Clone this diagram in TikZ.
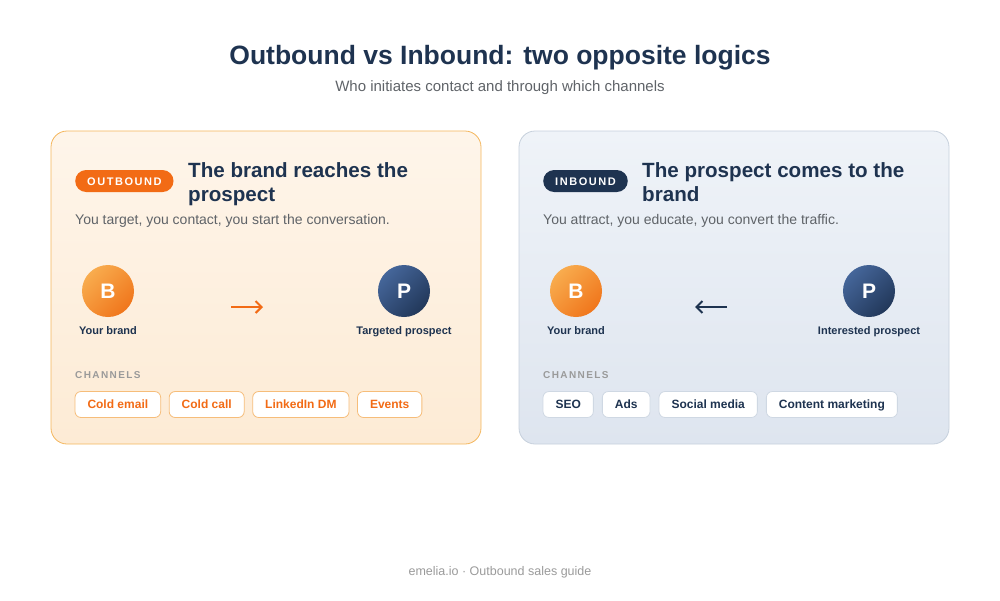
\documentclass[tikz,border=0pt]{standalone}
\usepackage{fontspec}
\setmainfont{Liberation Sans}
\newfontfamily\spacedfont[LetterSpace=14]{Liberation Sans}
\usepackage{xcolor}
\usetikzlibrary{arrows.meta,positioning,shadings}

\definecolor{navy}{HTML}{1E3350}
\definecolor{outorange}{HTML}{F26B15}
\definecolor{greytext}{HTML}{5F6368}
\definecolor{softgrey}{HTML}{9A9A9A}
\definecolor{peachtop}{HTML}{FEF5EA}
\definecolor{peachbot}{HTML}{FDEBD5}
\definecolor{peachline}{HTML}{F4B65C}
\definecolor{bluetop}{HTML}{EFF3F8}
\definecolor{bluebot}{HTML}{DEE5EF}
\definecolor{blueline}{HTML}{C6D0DC}
\definecolor{orangelight}{HTML}{F8AC4E}
\definecolor{orangedark}{HTML}{F0761C}
\definecolor{navylight}{HTML}{45669A}
\definecolor{navydark}{HTML}{22385A}
\definecolor{chipline}{HTML}{F6BD7A}
\definecolor{chipblue}{HTML}{CFD8E3}

\newcommand{\fs}[1]{\fontsize{#1}{#1}\selectfont}

\begin{document}
\begin{tikzpicture}[x=1pt,y=-1pt,
  card/.style={rounded corners=16pt,minimum width=430pt,minimum height=313pt,
    line width=0.8pt,outer sep=0pt},
  badge/.style={rounded corners=11pt,minimum height=22pt,inner xsep=12pt,
    inner ysep=0pt,text height=10pt,text depth=2pt,
    font=\spacedfont\bfseries\fs{11},text=white,anchor=west},
  heading/.style={font=\bfseries\fontsize{20.6}{24}\selectfont,text=navy,
    align=left,anchor=north west,inner sep=0pt},
  desc/.style={font=\fs{14},text=greytext,anchor=base west,inner sep=0pt},
  avatar/.style={circle,minimum size=52pt,inner sep=0pt,text=white,
    font=\bfseries\fs{21}},
  brandball/.style={avatar,top color=orangelight,bottom color=orangedark,shading angle=45},
  prospectball/.style={avatar,top color=navylight,bottom color=navydark,shading angle=45},
  who/.style={font=\bfseries\fs{11},text=navy,inner sep=0pt,anchor=base},
  chanlabel/.style={font=\spacedfont\bfseries\fs{10},text=softgrey,
    anchor=base west,inner sep=0pt},
  chip/.style={draw,fill=white,rounded corners=6pt,minimum height=26pt,
    inner xsep=12.5pt,inner ysep=0pt,outer sep=0pt,line width=0.8pt,
    text height=11pt,text depth=2.4pt,font=\bfseries\fs{12}},
  flow/.style={line width=2pt,-{Straight Barb[length=6pt,width=12pt,line width=2pt]}}]

  \useasboundingbox (0,0) rectangle (1000,600);

  % titles
  \node[font=\bfseries\fs{26.5},text=navy,anchor=base] (title) at (500,64.5)
    {Outbound vs Inbound: two opposite logics};
  \node[font=\fs{15},text=greytext,anchor=base] (subtitle) at (500,91.5)
    {Who initiates contact and through which channels};

  % cards
  \node[card,draw=peachline,top color=peachtop,bottom color=peachbot]
    (outcard) at (266,287.5) {};
  \node[card,draw=blueline,top color=bluetop,bottom color=bluebot]
    (incard) at (734,287.5) {};

  % outbound side
  \node[badge,fill=outorange] (outbadge) at (75,181) {OUTBOUND};
  \node[heading] (outhead) at (188,162) {The brand reaches the\\prospect};
  \node[desc] (outdesc) at (75,224) {You target, you contact, you start the conversation.};

  \node[brandball] (outb) at (108,291) {B};
  \node[prospectball] (outp) at (404,291) {P};
  \node[who] (outbl) at (108,334) {Your brand};
  \node[who] (outpl) at (404,334) {Targeted prospect};
  \coordinate (outfrom) at (231,307);
  \coordinate (outto) at (263,307);
  \draw[flow,outorange] (outfrom) -- (outto);

  \node[chanlabel] (outchan) at (75,378.5) {CHANNELS};
  \begin{scope}[every node/.append style={chip,draw=chipline,text=outorange}]
    \node[anchor=west] (oc1) at (75,404.5) {Cold email};
    \node[right=8.5pt of oc1] (oc2) {Cold call};
    \node[right=8.5pt of oc2] (oc3) {LinkedIn DM};
    \node[right=8.5pt of oc3] (oc4) {Events};
  \end{scope}

  % inbound side
  \node[badge,fill=navy] (inbadge) at (543,181) {INBOUND};
  \node[heading] (inhead) at (642,162) {The prospect comes to the\\brand};
  \node[desc] (indesc) at (543,224) {You attract, you educate, you convert the traffic.};

  \node[brandball] (inb) at (576,291) {B};
  \node[prospectball] (inp) at (869,291) {P};
  \node[who] (inbl) at (576,334) {Your brand};
  \node[who] (inpl) at (869,334) {Interested prospect};
  \coordinate (infrom) at (727,307);
  \coordinate (into) at (695,307);
  \draw[flow,navy] (infrom) -- (into);

  \node[chanlabel] (inchan) at (543,378.5) {CHANNELS};
  \begin{scope}[every node/.append style={chip,draw=chipblue,text=navy}]
    \node[anchor=west] (ic1) at (543,404.5) {SEO};
    \node[right=9pt of ic1] (ic2) {Ads};
    \node[right=9pt of ic2] (ic3) {Social media};
    \node[right=9pt of ic3] (ic4) {Content marketing};
  \end{scope}

  % footer
  \node[font=\fs{12.5},text=softgrey,anchor=base] (footer) at (500,575)
    {emelia.io · Outbound sales guide};
\end{tikzpicture}
\end{document}
